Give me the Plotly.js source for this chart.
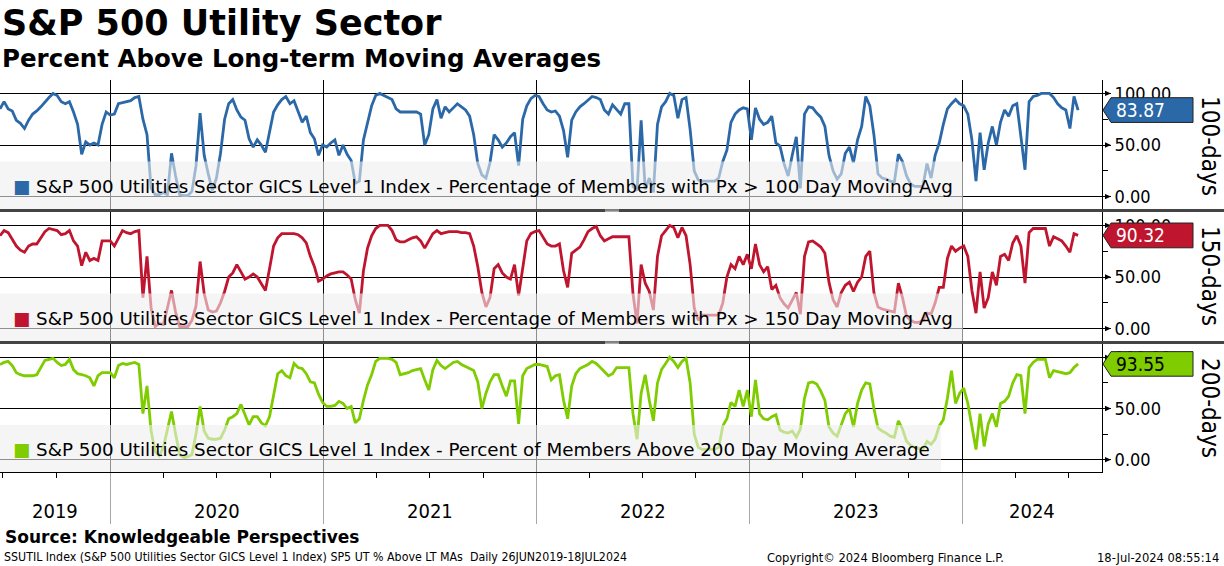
<!DOCTYPE html>
<html><head><meta charset="utf-8">
<script src="https://cdn.plot.ly/plotly-3.0.1.min.js"></script>
<style>html,body{margin:0;padding:0;background:#fff}#chart{width:1224px;height:566px}</style>
</head><body><div id="chart"></div>
<script>
// weekly observations starting 26 Jun 2019
const startDate = '2019-06-26';
const stepMs = 7 * 24 * 3600 * 1000;

const pct100 = [
85,92,85,83,74,71,66,74,80,83, 87,92,96,100,98,92,90,92,82,70,
41,53,50,52,50,70,82,79,80,90, 91,92,93,96,97,75,60,8,2,2,
4,2,42,20,2,1,1,5,30,81, 40,22,6,18,42,75,90,94,84,77,
74,56,48,55,50,43,62,82,89,94, 97,90,93,82,72,78,62,56,40,50,
48,52,55,40,50,41,35,13,15,55, 73,88,98,100,98,96,94,85,82,82,
82,82,82,80,50,60,85,94,76,87, 82,86,90,87,84,78,60,32,21,18,
33,60,55,48,52,58,62,30,75,88, 95,98,97,90,84,82,83,78,64,38,
74,82,87,90,94,97,96,94,84,80, 89,85,80,90,90,10,6,74,7,18,
4,70,87,92,100,98,76,94,96,65, 25,16,15,15,15,15,18,34,45,72,
80,84,86,85,55,86,75,70,72,78, 52,49,32,20,40,58,8,80,87,86,
81,77,68,40,25,17,22,42,48,33, 55,68,97,88,60,22,18,17,15,14,
41,34,20,12,10,10,10,32,18,40, 52,70,85,90,94,90,88,80,55,15,
62,26,52,68,50,72,84,78,88,90, 60,26,92,97,98,100,100,100,96,90,
86,84,66,97,83.87];

const pct150 = [
90,95,93,86,80,76,74,80,82,82, 88,94,97,96,95,91,92,95,85,80,
61,74,66,68,66,85,85,85,80,88, 95,93,92,94,95,30,70,20,2,5,
4,20,37,16,2,2,2,8,22,65, 34,18,16,17,25,36,50,54,62,55,
48,50,53,50,44,37,58,80,88,92, 92,92,92,91,88,83,70,60,46,48,
51,53,54,55,55,52,48,28,15,56, 78,90,97,100,100,100,95,86,84,84,
86,88,89,85,78,85,92,95,92,93, 94,94,94,93,93,92,80,60,35,21,
30,58,62,54,50,48,62,32,60,85, 92,94,95,88,82,80,80,82,56,40,
73,76,79,86,94,97,99,90,85,87, 89,89,89,89,89,34,5,62,44,36,
18,70,90,95,100,98,88,98,90,62, 20,8,13,13,13,13,13,25,50,62,
58,70,62,72,58,82,62,55,60,38, 42,30,24,20,28,35,14,70,84,85,
82,79,73,45,28,21,35,42,45,36, 45,50,70,75,35,21,19,18,17,16,
44,30,12,8,6,6,8,15,14,25, 40,40,68,80,75,78,80,70,37,15,
55,20,30,55,42,70,72,66,83,90, 80,44,93,97,97,97,97,80,89,87,
85,80,74,92,90.32];

const pct200 = [
93,95,96,92,85,83,82,82,82,83, 90,97,98,99,95,92,93,98,88,84,
83,82,80,72,82,85,85,85,80,92, 94,93,94,95,93,45,72,28,8,4,
12,28,47,25,5,2,3,5,25,52, 28,21,20,20,21,29,40,42,45,54,
44,34,42,42,36,33,42,65,84,87, 82,80,94,90,89,84,76,75,64,56,
52,52,53,57,55,50,52,36,40,58, 73,83,96,99,99,99,98,95,83,84,
85,87,88,89,78,68,88,97,92,89, 92,95,96,93,91,89,87,76,50,65,
76,83,83,72,62,77,77,35,82,89, 91,93,93,92,91,78,82,83,58,40,
72,84,89,91,93,96,94,90,86,82, 84,90,90,90,90,45,20,65,83,58,
38,75,88,94,100,96,90,96,99,75, 25,12,10,10,10,10,12,33,40,56,
52,68,52,68,42,78,45,40,39,42, 44,29,27,26,28,22,30,60,75,76,
74,67,58,32,26,23,34,45,50,32, 55,68,75,74,50,31,28,26,23,22,
38,30,18,14,12,11,10,18,15,20, 33,39,60,87,55,65,70,55,32,10,
45,13,35,45,32,55,57,62,75,83, 82,45,90,95,98,98,98,80,87,86,
85,84,85,90,93.55];

const seriesNames = [
  'S&amp;P 500 Utilities Sector GICS Level 1 Index - Percentage of Members with Px &gt; 100 Day Moving Avg',
  'S&amp;P 500 Utilities Sector GICS Level 1 Index - Percentage of Members with Px &gt; 150 Day Moving Avg',
  'S&amp;P 500 Utilities Sector GICS Level 1 Index - Percent of Members Above 200 Day Moving Average'];
const panelTitles = ['100-days','150-days','200-days'];
const yearLabels = ['2019','2020','2021','2022','2023','2024'];
const yTicks = [0,50,100];
const xRange = ['2019-06-26','2024-08-27'];
const titleText = 'S&amp;P 500 Utility Sector';
const subtitleText = 'Percent Above Long-term Moving Averages';
const sourceText = 'Source: Knowledgeable Perspectives';
const footLeft = 'SSUTIL Index (S&amp;P 500 Utilities Sector GICS Level 1 Index) SP5 UT % Above LT MAs&#160;&#160;Daily 26JUN2019-18JUL2024';
const footMid = 'Copyright&#169; 2024 Bloomberg Finance L.P.';
const footRight = '18-Jul-2024 08:55:14';

const colors = ['#2a68a8','#c0152f','#7fcc00'];
const badgeTextColors = ['#ffffff','#ffffff','#000000'];
const series = [pct100, pct150, pct200];

// layout geometry helpers (pixel -> paper)
const PW = 1102, TOP = 80, BOT = 472, PH = BOT - TOP;
const px = x => x / PW;
const py = y => (BOT - y) / PH;

const FONT = 'DejaVu Sans Condensed, DejaVu Sans, sans-serif';
const RFONT = 'DejaVu Sans, sans-serif';
const BFONT = 'DejaVu Sans, sans-serif';

const yNames = ['y','y2','y3'];
const traces = series.map((s, i) => ({
  type: 'scatter', mode: 'lines', x0: startDate, dx: stepMs, y: s,
  xaxis: 'x', yaxis: yNames[i],
  line: {color: colors[i], width: 2.8}, hoverinfo: 'skip'
}));

const domains = [[py(209), 1], [py(341), py(212)], [0, py(344)]];
function yaxis(i) {
  return {
    domain: domains[i], range: [-12, 113], side: 'right', anchor: 'x',
    tickvals: yTicks, tickformat: '.2f', ticks: 'outside', ticklen: 8, tickcolor: '#000',
    tickfont: {size: 18, family: FONT, color: '#000'},
    showline: true, linecolor: '#000', linewidth: 1,
    showgrid: true, gridcolor: '#000', gridwidth: 1, zeroline: false,
    minor: {tickvals: [25, 75], ticks: 'outside', ticklen: 5, tickcolor: '#000', showgrid: false},
    fixedrange: true
  };
}

const shapes = [];
const annotations = [];
const boxRight = [963, 963, 941];
for (let i = 0; i < 3; i++) {
  const yr = yNames[i];
  shapes.push({type: 'rect', xref: 'paper', yref: yr, x0: 0, x1: px(boxRight[i]), y0: -12, y1: 34,
    fillcolor: 'rgba(238,238,238,0.6)', line: {width: 0}, layer: 'above'});
  yTicks.forEach(v => shapes.push({type: 'path', xref: 'paper', yref: yr,
    path: `M ${px(1105)},${v + 2.6} L ${px(1111)},${v} L ${px(1105)},${v - 2.6} Z`,
    fillcolor: '#000', line: {width: 0}, layer: 'above'}));
  const last = series[i][series[i].length - 1];
  shapes.push({type: 'path', xref: 'paper', yref: yr,
    path: `M ${px(1103)},${last} L ${px(1111)},${last + 12} L ${px(1193)},${last + 12} L ${px(1193)},${last - 12} L ${px(1111)},${last - 12} Z`,
    fillcolor: colors[i], line: {color: '#222', width: 1}, layer: 'above'});
  annotations.push({xref: 'paper', yref: yr, x: px(1114), y: last, xanchor: 'left', yanchor: 'middle',
    text: last.toFixed(2), showarrow: false, font: {size: 19, family: FONT, color: badgeTextColors[i]}});
  annotations.push({xref: 'paper', yref: yr, x: px(11), y: 10, xanchor: 'left', yanchor: 'middle',
    text: `<span style="color:${colors[i]}">&#9632;</span> ${seriesNames[i]}`, showarrow: false,
    font: {size: 18.3, family: RFONT, color: '#000'}});
}
const titleCenters = [146, 276, 408];
panelTitles.forEach((t, i) => annotations.push({xref: 'paper', yref: 'paper', x: px(1210), y: py(titleCenters[i]),
  xanchor: 'center', yanchor: 'middle', textangle: 90, text: t, showarrow: false,
  font: {size: 24, family: FONT, color: '#000'}}));
[[209, 212], [341, 344]].forEach(([a, b]) => {
  shapes.push({type: 'rect', xref: 'paper', yref: 'paper', x0: 0, x1: px(1224), y0: py(b), y1: py(a),
    fillcolor: '#444444', line: {width: 0}, layer: 'above'});
  shapes.push({type: 'line', xref: 'paper', yref: 'paper', x0: px(605), x1: px(619), y0: py(a + 1), y1: py(a + 1),
    line: {color: '#bbbbbb', width: 1}, layer: 'above'});
  shapes.push({type: 'line', xref: 'paper', yref: 'paper', x0: px(605), x1: px(619), y0: py(a + 2.4), y1: py(a + 2.4),
    line: {color: '#bbbbbb', width: 1}, layer: 'above'});
});
const r0 = new Date(xRange[0]).getTime(), r1 = new Date(xRange[1]).getTime();
yearLabels.forEach(y => {
  const a = Math.max(r0, new Date(y + '-01-01').getTime());
  const b = Math.min(r1, new Date((+y + 1) + '-01-01').getTime());
  const mid = new Date((a + b) / 2).toISOString().slice(0, 10);
  annotations.push({xref: 'x', yref: 'paper', x: mid, y: py(511), xanchor: 'center', yanchor: 'middle',
    text: y, showarrow: false, font: {size: 20, family: FONT, color: '#000'}});
});
annotations.push({xref: 'paper', yref: 'paper', x: px(0), y: py(23), xanchor: 'left', yanchor: 'middle',
  text: '<b>' + titleText + '</b>', showarrow: false, font: {size: 35, family: BFONT, color: '#000'}});
annotations.push({xref: 'paper', yref: 'paper', x: px(0), y: py(59), xanchor: 'left', yanchor: 'middle',
  text: '<b>' + subtitleText + '</b>', showarrow: false, font: {size: 24.5, family: BFONT, color: '#000'}});
annotations.push({xref: 'paper', yref: 'paper', x: px(3), y: py(537), xanchor: 'left', yanchor: 'middle',
  text: '<b>' + sourceText + '</b>', showarrow: false, font: {size: 17, family: BFONT, color: '#000'}});
annotations.push({xref: 'paper', yref: 'paper', x: px(2), y: py(557), xanchor: 'left', yanchor: 'middle',
  text: footLeft, showarrow: false, font: {size: 12.3, family: FONT, color: '#000'}});
annotations.push({xref: 'paper', yref: 'paper', x: px(765), y: py(557), xanchor: 'left', yanchor: 'middle',
  text: footMid, showarrow: false, font: {size: 12.8, family: FONT, color: '#000'}});
annotations.push({xref: 'paper', yref: 'paper', x: px(1221), y: py(557), xanchor: 'right', yanchor: 'middle',
  text: footRight, showarrow: false, font: {size: 12.8, family: FONT, color: '#000'}});

const layout = {
  width: 1224, height: 566,
  margin: {l: 0, r: 1224 - PW, t: TOP, b: 566 - BOT, pad: 0},
  paper_bgcolor: '#ffffff', plot_bgcolor: '#ffffff', showlegend: false,
  font: {family: FONT, color: '#000'},
  xaxis: {type: 'date', range: xRange, anchor: 'y3', domain: [0, 1],
    tick0: '2020-01-01', dtick: 'M12', showgrid: true, gridcolor: '#000', gridwidth: 1,
    ticks: 'outside', ticklen: 51, tickcolor: '#a8a8a8', tickwidth: 1, showticklabels: false,
    showline: true, linecolor: '#000', linewidth: 1, zeroline: false,
    minor: {tick0: '2019-07-01', dtick: 'M3', ticks: 'outside', ticklen: 5, tickcolor: '#000', showgrid: false},
    fixedrange: true},
  yaxis: yaxis(0), yaxis2: yaxis(1), yaxis3: yaxis(2),
  shapes: shapes, annotations: annotations
};

Plotly.newPlot('chart', traces, layout, {displayModeBar: false, staticPlot: true});
</script>
</body></html>
